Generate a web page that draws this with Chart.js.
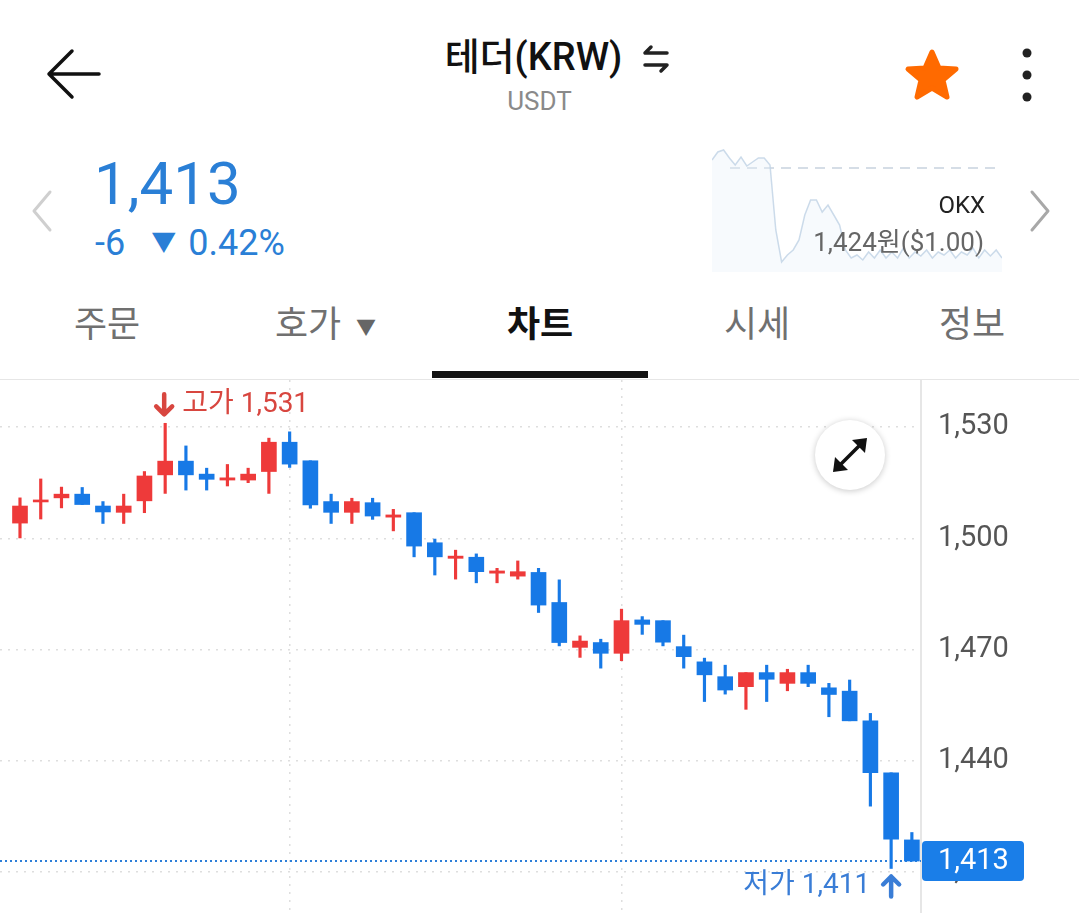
<!DOCTYPE html>
<html lang="ko">
<head>
<meta charset="UTF-8">
<meta name="viewport" content="width=device-width, initial-scale=1.0">
<title>테더(KRW) 차트</title>
<script src="https://cdn.jsdelivr.net/npm/chart.js"></script>
<style>
  /* 전체 화면 */
  * { margin: 0; padding: 0; box-sizing: border-box; }
  body {
    width: 1079px; height: 913px; overflow: hidden; position: relative;
    background: #fff; font-family: Roboto, "Noto Sans CJK KR", sans-serif;
  }
  .abs { position: absolute; line-height: 1; white-space: nowrap; }

  /* 상단 헤더 */
  .title { left: -6px; width: 1079px; top: 38px; text-align: center; font-size: 38px; font-weight: 500; color: #111; }
  .sub { left: 0; width: 1079px; top: 88px; text-align: center; font-size: 26px; color: #8a8a8a; }

  /* 현재가 */
  .price { left: 94px; top: 154px; font-size: 60px; color: #2a7fd6; }
  .change { left: 95px; top: 225px; font-size: 36px; color: #2a7fd6; }
  .okx { right: 94px; top: 193px; font-size: 24px; color: #222; }
  .krw { right: 95px; top: 229px; font-size: 26px; color: #666; }

  /* 탭 */
  .tab { top: 307px; font-size: 36px; color: #707070; text-align: center; width: 160px; }
  .tab.on { color: #111; font-weight: 700; }
  .underline { left: 432px; top: 371px; width: 216px; height: 7px; background: #111; }
  .sep { left: 0; top: 379px; width: 1079px; height: 1px; background: #e6e6e6; }

  #spark { position: absolute; left: 712px; top: 146px; }
  #candles { position: absolute; left: 0; top: 380px; }

  .expand {
    position: absolute; left: 815px; top: 420px; width: 70px; height: 70px;
    border-radius: 50%; background: #fff; box-shadow: 0 1px 6px rgba(0,0,0,0.22);
  }
</style>
</head>
<body>

<!-- 헤더 -->
<svg class="abs" style="left:40px;top:44px" width="70" height="60" viewBox="0 0 70 60">
  <path d="M9 30 H59 M32 7 L9 30 L32 53" fill="none" stroke="#111" stroke-width="3.5" stroke-linecap="round" stroke-linejoin="round"/>
</svg>
<div class="abs title">테더(KRW)</div>
<svg class="abs" style="left:642px;top:44px" width="28" height="30" viewBox="0 0 28 30">
  <path d="M3 9 H25 M3 9 L9 3 M25 21 H3 M25 21 L19 27" fill="none" stroke="#222" stroke-width="3.5" stroke-linecap="round" stroke-linejoin="round"/>
</svg>
<div class="abs sub">USDT</div>
<svg class="abs" style="left:902px;top:46px" width="60" height="60" viewBox="0 0 60 60">
  <polygon points="30,6 37,22 54,23 41,34 45,51 30,42 15,51 19,34 6,23 23,22"
    fill="#ff6a00" stroke="#ff6a00" stroke-width="5" stroke-linejoin="round"/>
</svg>
<svg class="abs" style="left:1017px;top:43px" width="20" height="64" viewBox="0 0 20 64">
  <circle cx="10" cy="10" r="4.5" fill="#222"/><circle cx="10" cy="32" r="4.5" fill="#222"/><circle cx="10" cy="54" r="4.5" fill="#222"/>
</svg>

<!-- 현재가 영역 -->
<svg class="abs" style="left:26px;top:188px" width="32" height="46" viewBox="0 0 32 46">
  <path d="M24 4 L8 23 L24 42" fill="none" stroke="#cfcfcf" stroke-width="3" stroke-linecap="round" stroke-linejoin="round"/>
</svg>
<div class="abs price">1,413</div>
<div class="abs change">-6<span style="font-size:25px;position:relative;top:-4px;margin-left:26px;margin-right:12px">▼</span>0.42%</div>
<canvas id="spark" width="290" height="126"></canvas>
<div class="abs okx">OKX</div>
<div class="abs krw">1,424원($1.00)</div>
<svg class="abs" style="left:1024px;top:188px" width="32" height="46" viewBox="0 0 32 46">
  <path d="M8 4 L24 23 L8 42" fill="none" stroke="#a8a8a8" stroke-width="3" stroke-linecap="round" stroke-linejoin="round"/>
</svg>

<!-- 탭 -->
<div class="abs tab" style="left:27px">주문</div>
<div class="abs tab" style="left:228px">호가</div>
<div class="abs" style="left:356px;top:318px;font-size:20px;color:#666">▼</div>
<div class="abs tab on" style="left:460px">차트</div>
<div class="abs tab" style="left:677px">시세</div>
<div class="abs tab" style="left:892px">정보</div>
<div class="abs underline"></div>
<div class="abs sep"></div>

<!-- 캔들 차트 -->
<canvas id="candles" width="1079" height="533"></canvas>
<div class="expand">
  <svg width="70" height="70" viewBox="0 0 70 70">
    <path d="M24 46 L46 24" stroke="#111" stroke-width="3.5" stroke-linecap="round"/>
    <polygon points="52,18 50,33 37,20" fill="#111"/>
    <polygon points="18,52 20,37 33,50" fill="#111"/>
  </svg>
</div>

<script>
  // 캔들 데이터
  var slots = [1, 2, 3, 4, 5, 6, 7, 8, 9, 10, 11, 12, 13, 14, 15, 16, 17, 18, 19, 20, 21, 22,
               23, 24, 25, 26, 27, 28, 29, 30, 31, 32, 33, 34, 35, 36, 37, 38, 39, 40, 41, 42, 43, 44];
  var opens  = [1504.1, 1509.8, 1510.9, 1511.9, 1508.7, 1507.0, 1510.1, 1517.1, 1520.8, 1517.3, 1515.7,
                1515.7, 1518.0, 1525.9, 1520.9, 1509.9, 1507.0, 1509.6, 1505.7, 1506.9, 1498.8, 1494.6,
                1494.9, 1490.6, 1489.8, 1490.8, 1482.7, 1470.6, 1471.9, 1469.0, 1478.0, 1477.8, 1470.8,
                1466.7, 1462.7, 1460.0, 1463.8, 1460.9, 1463.8, 1459.7, 1458.8, 1450.8, 1436.8, 1418.7];
  var highs  = [1510.9, 1516.0, 1513.8, 1513.7, 1509.9, 1511.9, 1518.0, 1531.0, 1524.9, 1518.9, 1519.9,
                1518.9, 1527.0, 1528.7, 1520.9, 1511.9, 1510.8, 1510.8, 1507.8, 1506.9, 1499.8, 1496.8,
                1495.8, 1491.9, 1493.9, 1491.9, 1488.8, 1473.7, 1472.8, 1480.9, 1478.9, 1477.8, 1473.9,
                1467.7, 1465.8, 1463.8, 1465.8, 1464.7, 1465.8, 1460.9, 1461.8, 1452.8, 1436.8, 1420.7];
  var lows   = [1500.1, 1505.2, 1508.2, 1509.1, 1504.0, 1504.0, 1506.9, 1512.1, 1513.0, 1513.0, 1514.1,
                1515.0, 1512.1, 1519.1, 1508.1, 1504.0, 1504.0, 1505.1, 1502.0, 1495.0, 1490.1, 1489.0,
                1488.0, 1488.0, 1489.0, 1480.0, 1471.0, 1467.9, 1465.0, 1467.0, 1474.1, 1471.0, 1465.0,
                1456.0, 1458.0, 1453.9, 1456.0, 1458.9, 1460.0, 1451.9, 1450.8, 1427.8, 1411.0, 1413.0];
  var closes = [1508.7, 1510.3, 1511.9, 1509.1, 1507.1, 1508.7, 1516.8, 1520.8, 1517.1, 1515.9, 1516.3,
                1517.3, 1525.9, 1520.0, 1509.0, 1507.0, 1509.9, 1506.0, 1506.3, 1497.9, 1495.0, 1495.2,
                1491.0, 1491.2, 1491.0, 1482.0, 1471.9, 1472.3, 1469.0, 1477.8, 1476.8, 1472.0, 1468.1,
                1463.2, 1459.1, 1463.8, 1462.0, 1463.8, 1460.9, 1457.9, 1450.8, 1436.8, 1418.9, 1413.0];
  var yTicks = [1410, 1440, 1470, 1500, 1530];
  var xGridSlots = [14, 30];

  // 미니 차트 (OKX)
  var sparkPrices = [1428.0, 1429.6, 1430.0, 1428.4, 1427.0, 1428.6, 1426.8, 1427.6, 1428.4, 1428.4, 1427.0,
                     1414.0, 1407.6, 1409.0, 1410.0, 1412.0, 1417.0, 1420.0, 1420.0, 1417.6, 1419.0, 1417.0,
                     1415.0, 1410.0, 1408.4, 1409.0, 1408.0, 1409.6, 1408.4, 1410.0, 1408.4, 1409.6, 1408.4,
                     1410.4, 1408.4, 1409.6, 1408.8, 1410.0, 1408.4, 1409.6, 1409.0, 1410.0, 1408.4, 1409.6,
                     1409.0, 1410.4, 1408.4, 1410.0, 1408.8, 1410.0, 1408.4];
  var sparkRef = 1426.4;

  var UP = "#ee3a3a";
  var DOWN = "#1779e6";
  var colors = opens.map(function (o, i) { return closes[i] >= opens[i] ? UP : DOWN; });

  function fmt(v) { return Number(v).toLocaleString("en-US"); }

  // 현재가 라인 + 고가/저가 표시
  var markers = {
    id: "markers",
    beforeDatasetsDraw: function (chart) {
      var ctx = chart.ctx, a = chart.chartArea;
      var y = chart.scales.y.getPixelForValue(closes[closes.length - 1]);
      ctx.save();
      ctx.strokeStyle = "#2d7fd8";
      ctx.lineWidth = 2;
      ctx.setLineDash([2, 3]);
      ctx.beginPath(); ctx.moveTo(a.left, y); ctx.lineTo(a.right, y); ctx.stroke();
      ctx.restore();
    },
    afterDraw: function (chart) {
      var ctx = chart.ctx, a = chart.chartArea, sx = chart.scales.x, sy = chart.scales.y;
      var last = closes[closes.length - 1];
      var y = sy.getPixelForValue(last);

      ctx.save();
      // 현재가 박스
      ctx.fillStyle = "#1a7ee8";
      ctx.beginPath();
      ctx.roundRect(a.right + 1, y - 20, 102, 40, 4);
      ctx.fill();
      ctx.fillStyle = "#fff";
      ctx.font = "29px Roboto";
      ctx.textBaseline = "middle";
      ctx.textAlign = "left";
      ctx.fillText(fmt(last), a.right + 17, y + 1);

      // 고가
      var hi = highs.indexOf(Math.max.apply(null, highs));
      var hx = sx.getPixelForValue(slots[hi]), hy = sy.getPixelForValue(highs[hi]);
      ctx.strokeStyle = ctx.fillStyle = "#d8463f";
      ctx.lineWidth = 4.5; ctx.lineCap = "round"; ctx.lineJoin = "round";
      ctx.beginPath();
      ctx.moveTo(hx - 1, hy - 29); ctx.lineTo(hx - 1, hy - 9);
      ctx.moveTo(hx - 9, hy - 17); ctx.lineTo(hx - 1, hy - 9); ctx.lineTo(hx + 7, hy - 17);
      ctx.stroke();
      ctx.font = "28px Roboto, 'Noto Sans CJK KR'";
      ctx.textAlign = "left";
      ctx.fillText("고가 " + fmt(highs[hi]), hx + 17, hy - 18);

      // 저가
      var lo = lows.indexOf(Math.min.apply(null, lows));
      var lx = sx.getPixelForValue(slots[lo]), ly = sy.getPixelForValue(lows[lo]);
      ctx.strokeStyle = ctx.fillStyle = "#3a7dd6";
      ctx.beginPath();
      ctx.moveTo(lx, ly + 28); ctx.lineTo(lx, ly + 8);
      ctx.moveTo(lx - 8, ly + 16); ctx.lineTo(lx, ly + 8); ctx.lineTo(lx + 8, ly + 16);
      ctx.stroke();
      ctx.textAlign = "right";
      ctx.fillText("저가 " + fmt(lows[lo]), lx - 21, ly + 18);
      ctx.restore();
    }
  };

  new Chart(document.getElementById("candles"), {
    type: "bar",
    data: {
      datasets: [
        {
          label: "몸통",
          data: slots.map(function (s, i) { return { x: s, y: [Math.min(opens[i], closes[i]), Math.max(opens[i], closes[i])] }; }),
          backgroundColor: colors,
          barThickness: 15,
          minBarLength: 2,
          grouped: false,
          borderWidth: 0
        },
        {
          label: "꼬리",
          data: slots.map(function (s, i) { return { x: s, y: [lows[i], highs[i]] }; }),
          backgroundColor: colors,
          barThickness: 2.5,
          grouped: false,
          borderWidth: 0
        }
      ]
    },
    options: {
      responsive: false,
      animation: false,
      layout: { padding: 0 },
      plugins: { legend: { display: false }, tooltip: { enabled: false } },
      scales: {
        x: {
          type: "linear",
          offset: false,
          min: 0.036,
          max: 44.44,
          ticks: { display: false },
          grid: { color: "#dedede", lineWidth: 1.5, drawTicks: false, offset: false },
          border: { display: false, dash: [2, 6] },
          afterBuildTicks: function (s) { s.ticks = xGridSlots.map(function (v) { return { value: v }; }); },
          afterFit: function (s) { s.height = 0; s.paddingLeft = 0; s.paddingRight = 0; }
        },
        y: {
          position: "right",
          min: 1399.0,
          max: 1542.67,
          ticks: {
            padding: 17,
            color: "#555",
            font: { size: 29, family: "Roboto" },
            callback: function (v) { return fmt(v); }
          },
          grid: { color: "#dedede", lineWidth: 1.5, drawTicks: false },
          border: { display: true, color: "#e6e6e6", width: 2, dash: [2, 6] },
          afterBuildTicks: function (s) { s.ticks = yTicks.map(function (v) { return { value: v }; }); },
          afterFit: function (s) { s.width = 158; s.paddingTop = 0; s.paddingBottom = 0; }
        }
      }
    },
    plugins: [markers]
  });

  // 미니 차트 기준선
  var sparkLine = {
    id: "sparkLine",
    beforeDatasetsDraw: function (chart) {
      var ctx = chart.ctx, a = chart.chartArea;
      var y = chart.scales.y.getPixelForValue(sparkRef);
      ctx.save();
      ctx.strokeStyle = "#d5dde6";
      ctx.lineWidth = 2;
      ctx.setLineDash([10, 7]);
      ctx.beginPath(); ctx.moveTo(a.left + 18, y); ctx.lineTo(a.right - 6, y); ctx.stroke();
      ctx.restore();
    }
  };

  new Chart(document.getElementById("spark"), {
    type: "line",
    data: {
      labels: sparkPrices.map(function (p, i) { return i; }),
      datasets: [{
        data: sparkPrices,
        borderColor: "rgba(195, 213, 230, 0.85)",
        backgroundColor: "rgba(232, 241, 249, 0.35)",
        borderWidth: 1.5,
        pointRadius: 0,
        tension: 0,
        fill: "start"
      }]
    },
    options: {
      responsive: false,
      animation: false,
      layout: { padding: 0 },
      plugins: { legend: { display: false }, tooltip: { enabled: false } },
      scales: {
        x: { display: false },
        y: { display: false, min: 1405.6, max: 1430.8 }
      }
    },
    plugins: [sparkLine]
  });
</script>
</body>
</html>
